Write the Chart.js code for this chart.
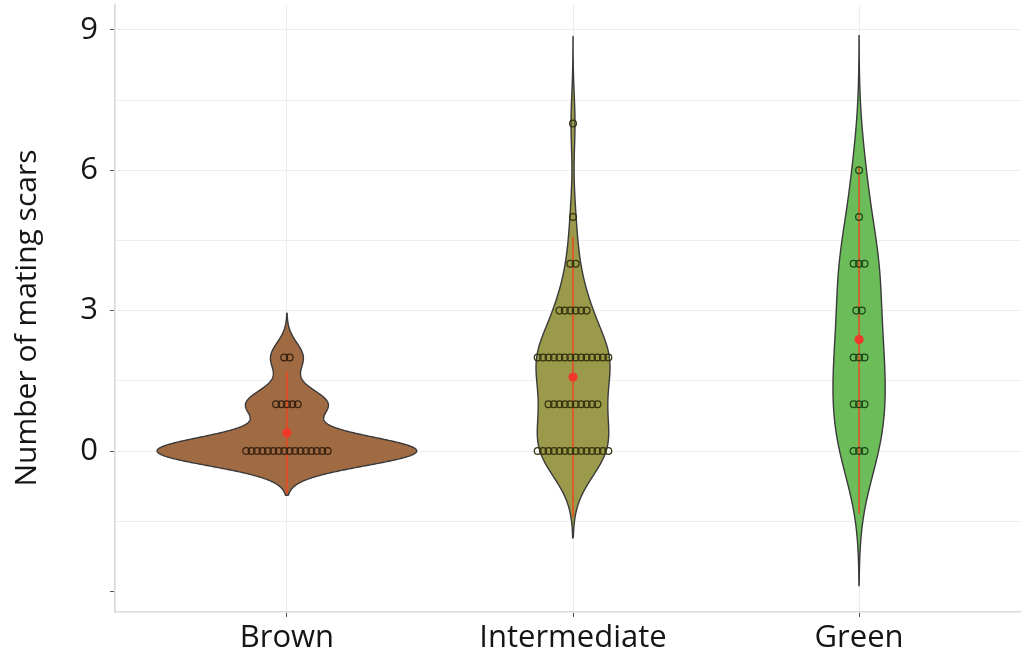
<!DOCTYPE html>
<html>
<head>
<meta charset="utf-8">
<script src="https://cdn.jsdelivr.net/npm/chart.js@4.4.1/dist/chart.umd.min.js"></script>
<style>
html,body{margin:0;padding:0;background:#fff;}
#wrap{width:1021px;height:656px;}
</style>
</head>
<body>
<div id="wrap"><canvas id="c" width="1021" height="656"></canvas></div>
<script>
// ---- data ----
const categories = ["Brown", "Intermediate", "Green"];
const scarValues = [0, 1, 2, 3, 4, 5, 6, 7];
const brownCounts        = [16, 5, 2, 0, 0, 0, 0, 0];
const intermediateCounts = [14, 10, 14, 6, 2, 1, 0, 1];
const greenCounts        = [3, 3, 3, 2, 3, 1, 1, 0];
const means      = [0.39, 1.58, 2.38];
const rangeLow   = [-0.92, -1.41, -1.34];
const rangeHigh  = [1.70, 4.58, 6.09];
const bandwidths = [0.315, 0.62, 0.96];
const yTickValues = [9, 6, 3, 0, -3];
const yTitle = "Number of mating scars";

// ---- styles ----
const fills   = ["#a06b43", "#9b9a4b", "#6cbd5a"];
const pEdges  = ["#3a2210", "#33330e", "#1b4615"];
const allCounts = [brownCounts, intermediateCounts, greenCounts];
const widthPerDensity = 0.514;   // x-units per unit density
const dotStep = 0.0190;          // x-units between stacked dots
const FONT = "'Open Sans', 'Noto Sans', sans-serif";

function kdeOutline(ci){
  const counts = allCounts[ci], bw = bandwidths[ci];
  const pts = [];
  scarValues.forEach((v,i)=>{ for(let k=0;k<counts[i];k++) pts.push(v); });
  const n = pts.length;
  const lo = Math.min(...pts) - 3*bw, hi = Math.max(...pts) + 3*bw;
  const N = 300, right = [], left = [];
  for(let s=0;s<=N;s++){
    const y = lo + (hi-lo)*s/N;
    let d = 0;
    for(const p of pts){ const z=(y-p)/bw; d += Math.exp(-0.5*z*z); }
    d /= n*bw*Math.sqrt(2*Math.PI);
    const w = d*widthPerDensity;
    right.push({x: ci+1+w, y});
    left.push({x: ci+1-w, y});
  }
  return right.concat(left.reverse()).concat([right[0]]);
}

function dotPoints(ci){
  const counts = allCounts[ci], out = [];
  scarValues.forEach((v,i)=>{
    const n = counts[i];
    for(let k=0;k<n;k++) out.push({x: ci+1 + (k-(n-1)/2)*dotStep, y: v});
  });
  return out;
}

const datasets = [];
categories.forEach((c,ci)=>{
  datasets.push({
    type:'scatter', label:c+' violin', data:kdeOutline(ci), showLine:true,
    borderColor:'#3a3a3a', borderWidth:1.4, backgroundColor:fills[ci],
    fill:'shape', pointRadius:0, tension:0.001, borderJoinStyle:'round', order:10
  });
  datasets.push({
    type:'scatter', label:c+' range', data:[{x:ci+1,y:rangeLow[ci]},{x:ci+1,y:rangeHigh[ci]}],
    showLine:true, borderColor:'rgba(240,70,30,0.9)', borderWidth:1.6, pointRadius:0, tension:0.001, order:8
  });
  datasets.push({
    type:'scatter', label:c+' dots', data:dotPoints(ci),
    pointRadius:3.4, pointBorderWidth:1.25, pointBorderColor:pEdges[ci],
    pointBackgroundColor:'rgba(0,0,0,0)', order:6
  });
  datasets.push({
    type:'scatter', label:c+' mean', data:[{x:ci+1,y:means[ci]}],
    pointRadius:4.6, pointBorderWidth:0, pointBackgroundColor:'#f0392b', order:4
  });
});

const yTitlePlugin = {
  id:'yTitlePlugin',
  afterDraw(chart){
    const ctx = chart.ctx;
    ctx.save();
    ctx.translate(27, 318);
    ctx.rotate(-Math.PI/2);
    ctx.font = "30px " + FONT;
    ctx.fillStyle = '#151515';
    ctx.textAlign = 'center';
    ctx.textBaseline = 'middle';
    ctx.fillText(yTitle, 0, 0);
    ctx.restore();
  }
};

new Chart(document.getElementById('c'), {
  type:'scatter',
  data:{datasets},
  plugins:[yTitlePlugin],
  options:{
    responsive:false, animation:false, devicePixelRatio:1,
    layout:{autoPadding:false, padding:{top:5,right:0,left:0,bottom:0}},
    plugins:{legend:{display:false}, tooltip:{enabled:false}},
    scales:{
      x:{
        type:'linear', min:0.399, max:3.566,
        afterBuildTicks:(ax)=>{ ax.ticks = categories.map((c,i)=>({value:i+1})); },
        afterFit:(ax)=>{ ax.height = 44; ax.paddingLeft = 0; ax.paddingRight = 0; },
        ticks:{
          callback:(v)=>categories[Math.round(v)-1] || '',
          font:{family:FONT,size:31}, color:'#151515', padding:3, maxRotation:0, autoSkip:false
        },
        grid:{color:'#ececec', lineWidth:1, tickLength:5, tickColor:'#555', drawTicks:true},
        border:{color:'#dcd8d4', width:1.6}
      },
      y:{
        type:'linear', min:-3.44, max:9.53,
        afterBuildTicks:(ax)=>{
          const t=[]; for(let v=-3; v<=9.001; v+=1.5) t.push({value:v}); ax.ticks=t;
        },
        afterFit:(ax)=>{ ax.width = 115; ax.paddingTop = 0; ax.paddingBottom = 0; },
        ticks:{
          callback:(v)=> (yTickValues.includes(v) && v!==-3) ? String(v) : '',
          font:{family:FONT,size:31}, color:'#151515', padding:12
        },
        grid:{
          color:(ctx)=> (ctx.tick && ctx.tick.value===-3) ? 'rgba(0,0,0,0)' : '#eeeeee',
          lineWidth:1, tickLength:5,
          tickColor:(ctx)=> (ctx.tick && yTickValues.includes(ctx.tick.value)) ? '#555' : 'rgba(0,0,0,0)'
        },
        border:{color:'#dcd8d4', width:1.6},
        title:{display:false}
      }
    }
  }
});
</script>
</body>
</html>
